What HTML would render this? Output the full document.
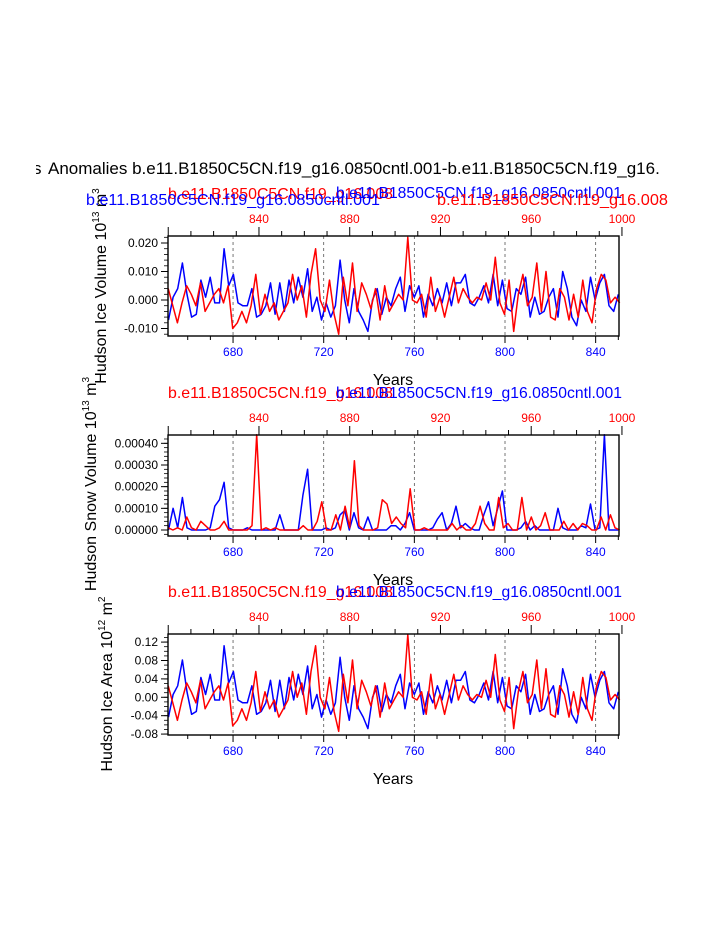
<!DOCTYPE html>
<html><head><meta charset="utf-8"><style>
html,body{margin:0;padding:0;background:#fff;width:723px;height:935px;overflow:hidden}
svg{display:block;font-family:"Liberation Sans",Arial,sans-serif}
</style></head><body>
<svg id="chart" width="723" height="935" viewBox="0 0 723 935">
<defs><clipPath id="tclip"><rect x="36" y="150" width="700" height="40"/></clipPath></defs>
<text x="48" y="174" font-size="17" fill="#000">Anomalies b.e11.B1850C5CN.f19_g16.0850cntl.001-b.e11.B1850C5CN.f19_g16.</text>
<text x="33" y="174" font-size="17" fill="#000" clip-path="url(#tclip)">s</text>
</svg>
<script>
// ---- data (units: volume 1e-3 *1e13 m3 ; snow 1e-5 ; area 1e-3) ----
const blueStart = 651.5, blueEnd = 850;   // control run years (bottom axis)
const redStart = 800, redEnd = 999;       // experiment years (top axis)
const iceVolBlue = [-7,1,4,13,2,-6,-5,7,1,8,-1,-1,18,5,9,-1,-2,-2,4,-6,-5,-2,6,-5,6,-4,7,-1,8,1,11,-4,1,-7,-1,-6,-2,14,0,-8,4,-4,-7,-11,0,4,-5,1,-2,4,8,-4,5,1,5,-6,2,-2,4,-1,6,-2,6,6,9,-1,-2,1,5,-1,9,-2,7,-3,-4,4,2,8,-6,1,-5,-4,1,4,-6,10,4,-6,-9,0,-4,8,0,6,9,-2,-4,2];
const iceVolRed = [4,-2,-8,-1,5,2,-2,6,-4,-1,2,4,-1,5,-10,-8,-4,-8,-2,9,-5,2,-4,-1,-7,-4,-1,9,0,5,-6,9,18,0,-4,7,-5,-12,8,-2,13,-4,6,2,-3,4,-7,5,-4,-1,2,0,22,0,-1,2,-6,8,-4,1,-6,1,8,-1,4,1,-1,1,0,6,0,15,-1,-5,7,-11,2,9,-2,1,13,-4,10,-6,-7,4,1,-7,2,-6,7,-4,-8,4,9,7,-1,1,-1];
const snowBlue = [0,10,1,15,1,0,0,0,0,1,11,14,22,1,0,0,0,1,0,0,0,0,0,0,7,0,0,0,0,16,28,0,0,0,1,0,1,7,9,0,8,1,0,6,0,0,0,0,2,2,0,3,8,0,0,0,0,1,5,8,0,3,11,1,3,1,0,0,7,13,2,10,18,0,0,0,1,4,0,2,0,0,0,0,10,1,0,0,0,2,1,12,0,1,44,0,0,0];
const snowRed = [1,0,1,0,6,1,0,4,2,0,0,1,4,0,0,0,0,0,2,44,0,1,0,1,0,0,0,0,0,2,0,0,4,13,0,0,7,0,11,1,32,2,0,0,0,1,14,12,3,6,3,1,19,0,0,1,0,0,0,0,0,3,0,2,0,0,3,11,3,0,0,15,1,3,0,0,15,0,6,0,2,8,0,0,0,4,0,3,0,3,2,0,0,6,0,7,1,0];
const areaBlue = [-43,6,25,81,12,-37,-31,43,6,50,-6,-6,112,31,56,-6,-12,-12,25,-37,-31,-12,37,-31,37,-25,43,-6,50,6,68,-25,6,-43,-6,-37,-12,87,0,-50,25,-25,-43,-68,0,25,-31,6,-12,25,50,-25,31,6,31,-37,12,-12,25,-6,37,-12,37,37,56,-6,-12,6,31,-6,56,-12,43,-19,-25,25,12,50,-37,6,-31,-25,6,25,-37,62,25,-37,-56,0,-25,50,0,37,56,-12,-25,12];
const areaRed = [25,-12,-50,-6,31,12,-12,37,-25,-6,12,25,-6,31,-62,-50,-25,-50,-12,56,-31,12,-25,-6,-43,-25,-6,56,0,31,-37,56,112,0,-25,43,-31,-74,50,-12,81,-25,37,12,-19,25,-43,31,-25,-6,12,0,136,0,-6,12,-37,50,-25,6,-37,6,50,-6,25,6,-6,6,0,37,0,93,-6,-31,43,-68,12,56,-12,6,81,-25,62,-37,-43,25,6,-43,12,-37,43,-25,-50,25,56,43,-6,6,-6];
const bottomTicks = [680,720,760,800,840];
const topTicks = [840,880,920,960,1000];
const volTicks = [0.02,0.01,0,-0.01];
const volLabels = ["0.020","0.010","0.000","-0.010"];
const snowTicks = [0.0004,0.0003,0.0002,0.0001,0];
const snowLabels = ["0.00040","0.00030","0.00020","0.00010","0.00000"];
const areaTicks = [0.12,0.08,0.04,0,-0.04,-0.08];
const areaLabels = ["0.12","0.08","0.04","0.00","-0.04","-0.08"];

const NS="http://www.w3.org/2000/svg";
const svg=document.getElementById('chart');
function mk(tag,attrs,parent){const e=document.createElementNS(NS,tag);for(const k in attrs)e.setAttribute(k,attrs[k]);(parent||svg).appendChild(e);return e;}
const X0=168,X1=619;
const xB=y=>X0+(y-651.3)/(850.3-651.3)*(X1-X0);
const xR=y=>X0+(y-799.9)/(998.7-799.9)*(X1-X0);

function panel(cfg){
  const g=mk('g',{});
  
  
  const ys=v=>cfg.top+(cfg.ymax-v)/(cfg.ymax-cfg.ymin)*(cfg.bot-cfg.top);
  bottomTicks.forEach(t=>{const l=mk('line',{x1:xB(t),x2:xB(t),y1:cfg.top,y2:cfg.bot,stroke:'#555','stroke-width':0.8,'stroke-dasharray':'3,3'},g);
    
    });
  function series(arr,scale,start,end,xf,color,nm){
    const n=arr.length;let d='';
    arr.forEach((v,i)=>{const yr=start+i*(end-start)/(n-1);d+=(i?'L':'M')+xf(yr).toFixed(1)+','+ys(v*scale).toFixed(1);});
    const p=mk('path',{d:d,fill:'none',stroke:color,'stroke-width':1.5,'stroke-linejoin':'round'},g);
    
    
  }
  series(cfg.blue,cfg.scale,blueStart,blueEnd,xB,'#0000ff','series-control-'+cfg.key);
  series(cfg.red,cfg.scale,redStart,redEnd,xR,'#ff0000','series-experiment-'+cfg.key);
  const fr=mk('rect',{x:X0,y:cfg.top,width:X1-X0,height:cfg.bot-cfg.top,fill:'none',stroke:'#000','stroke-width':1.4},g);
  
  
  for(let y=660;y<=850;y+=10){const maj=y%40==0;const x=xB(y);
    mk('line',{x1:x,x2:x,y1:cfg.bot,y2:cfg.bot+(maj?7:4),stroke:'#000','stroke-width':1},g);}
  bottomTicks.forEach(t=>{const tx=mk('text',{x:xB(t),y:cfg.bot+20,'font-size':12,fill:'#0000ff','text-anchor':'middle'},g);tx.textContent=t;
    
    });
  for(let y=800;y<=1000;y+=10){const maj=y%40==0;const x=xR(y);if(x<X0-0.5||x>X1+3)continue;
    mk('line',{x1:x,x2:x,y1:cfg.top,y2:cfg.top-(maj?9:5),stroke:'#000','stroke-width':1},g);}
  topTicks.forEach(t=>{const tx=mk('text',{x:xR(t),y:cfg.top-13,'font-size':12,fill:'#ff0000','text-anchor':'middle'},g);tx.textContent=t;
    
    });
  for(let v=cfg.minorStart;v<=cfg.ymax+1e-12;v+=cfg.minor){const y=ys(v);if(y<cfg.top-0.5||y>cfg.bot+0.5)continue;
    mk('line',{x1:X0,x2:X0-4,y1:y,y2:y,stroke:'#000','stroke-width':0.8},g);}
  cfg.ticks.forEach((t,i)=>{const y=ys(t);
    mk('line',{x1:X0,x2:X0-7,y1:y,y2:y,stroke:'#000','stroke-width':1},g);
    const tx=mk('text',{x:X0-10,y:y+4,'font-size':12,fill:'#000','text-anchor':'end'},g);tx.textContent=cfg.labels[i];
    
    });
  const xt=mk('text',{x:393,y:cfg.bot+49,'font-size':16,fill:'#000','text-anchor':'middle'},g);xt.textContent='Years';
  
  
  const yt=mk('text',{x:0,y:0,'font-size':16,fill:'#000','text-anchor':'middle',transform:`translate(${cfg.ylx},${cfg.yly}) rotate(-90)`},g);
  yt.innerHTML=cfg.ylab;
  
  
}
const sup=s=>`<tspan dy="-7" font-size="10">${s}</tspan><tspan dy="7"> </tspan>`;
panel({name:'ice-volume-panel',key:'ice-volume',top:236,bot:336,ymax:0.02246,ymin:-0.01263,blue:iceVolBlue,red:iceVolRed,scale:0.001,ticks:volTicks,labels:volLabels,minor:0.002,minorStart:-0.012,ylx:106,yly:286,ylab:'Hudson Ice Volume 10'+sup('13')+'m'+sup('3')});
panel({name:'snow-volume-panel',key:'snow-volume',top:435,bot:536,ymax:0.0004384,ymin:-0.0000277,blue:snowBlue,red:snowRed,scale:0.00001,ticks:snowTicks,labels:snowLabels,minor:0.00002,minorStart:-0.00002,ylx:96,yly:484,ylab:'Hudson Snow Volume 10'+sup('13')+'m'+sup('3')});
panel({name:'ice-area-panel',key:'ice-area',top:634,bot:735,ymax:0.1376,ymin:-0.082,blue:areaBlue,red:areaRed,scale:0.001,ticks:areaTicks,labels:areaLabels,minor:0.01,minorStart:-0.08,ylx:112,yly:684,ylab:'Hudson Ice Area 10'+sup('12')+'m'+sup('2')});

function sub(txt,x,y,len,color,nm){const t=mk('text',{x:x,y:y,'font-size':16,fill:color,textLength:len,lengthAdjust:'spacingAndGlyphs'});t.textContent=txt;
  
  }
const ctl='b.e11.B1850C5CN.f19_g16.0850cntl.001', exp='b.e11.B1850C5CN.f19_g16.008';
sub(exp,168,199,225,'#ff0000','experiment-subtitle');
sub(ctl,336,198,286,'#0000ff','control-subtitle');
sub(ctl,86,205,294,'#0000ff','control-subtitle-left');
sub(exp,437,205,231,'#ff0000','experiment-subtitle-right');
[398,597].forEach(y=>{
  sub(exp,168,y,225,'#ff0000','experiment-subtitle');
  sub(ctl,336,y,286,'#0000ff','control-subtitle');
});
</script>
</body></html>
